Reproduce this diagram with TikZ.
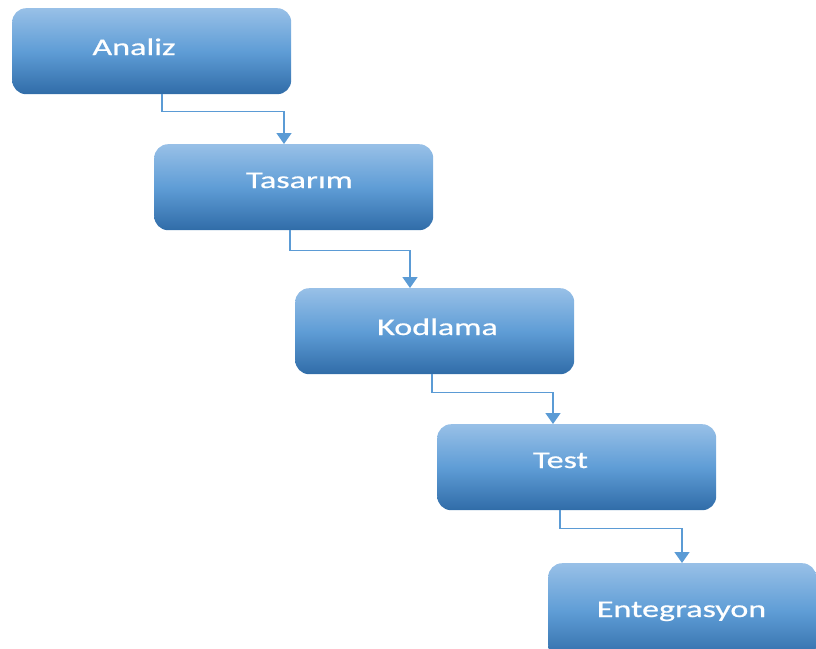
\documentclass[tikz,border=0pt]{standalone}
\usepackage{fontspec}
\setmainfont{Carlito}
\newfontfamily\stagefont{Carlito}[FakeStretch=1.42,FakeBold=0.6]
\usetikzlibrary{arrows.meta}
\definecolor{boxtop}{RGB}{152,192,231}
\definecolor{boxmid}{RGB}{95,157,214}
\definecolor{boxbot}{RGB}{48,108,168}
\definecolor{linkblue}{RGB}{91,155,213}
\begin{document}
\begin{tikzpicture}[x=1pt,y=-1pt,
  stagebox/.style={rectangle, rounded corners=14pt, anchor=north west,
    minimum width=279pt, minimum height=86pt, inner sep=0pt,
    top color=boxtop, bottom color=boxbot, middle color=boxmid, draw=none},
  stagetext/.style={anchor=base, text=white, inner sep=0pt,
    font=\stagefont\fontsize{24}{28}\selectfont},
  link/.style={draw=linkblue, line width=1.5pt,
    -{Triangle[width=15pt,length=11pt]}}]
\clip (0,0) rectangle (816,648);

% stage boxes
\node[stagebox] (A) at (12,8) {};
\node[stagebox] (T) at (154,144) {};
\node[stagebox] (K) at (295,288) {};
\node[stagebox] (S) at (437,424) {};
\node[stagebox, minimum width=268pt, minimum height=96pt] (E) at (548,563) {};

% stage labels
\node[stagetext] (tA) at (134,55) {Analiz};
\node[stagetext] (tT) at (299.5,188) {Tasarım};
\node[stagetext] (tK) at (437.5,335) {Kodlama};
\node[stagetext] (tS) at (560.5,468) {Test};
\node[stagetext] (tE) at (681.5,617) {Entegrasyon};

% elbow connectors between consecutive stages
\draw[link] ([xshift=150pt]A.south west) -- ++(0,17) -| ([xshift=130pt]T.north west);
\draw[link] ([xshift=136pt]T.south west) -- ++(0,20) -| ([xshift=115pt]K.north west);
\draw[link] ([xshift=137pt]K.south west) -- ++(0,18) -| ([xshift=116pt]S.north west);
\draw[link] ([xshift=123pt]S.south west) -- ++(0,18) -| ([xshift=134pt]E.north west);
\end{tikzpicture}
\end{document}
